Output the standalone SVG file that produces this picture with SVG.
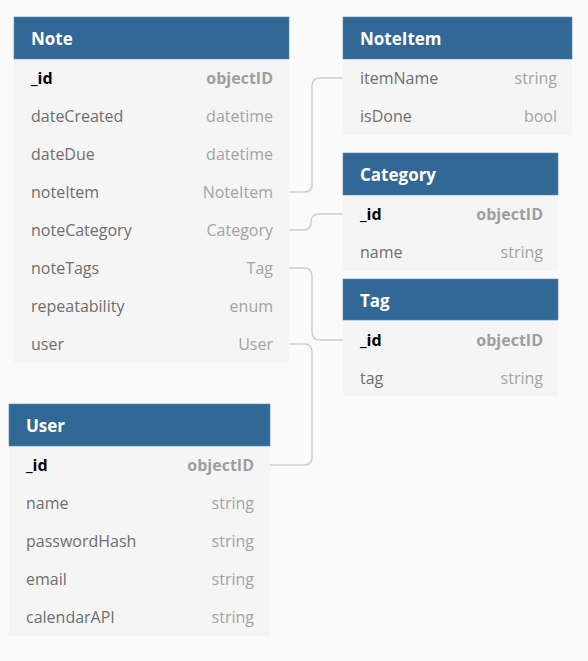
<svg xmlns="http://www.w3.org/2000/svg" width="588" height="661" viewBox="0 0 588 661">
<style>
.bg{fill:#fafafa}
.hd{fill:#316896;stroke:#5b87ad;stroke-width:0.6}
.bd{fill:#f5f5f5}
.sep{stroke:#efefef;stroke-width:1}
.t{font-family:"Open Sans","Noto Sans",sans-serif;font-size:16px;dominant-baseline:central}
.h{font-family:"Open Sans","Noto Sans",sans-serif;font-size:17px;font-weight:bold;fill:#ffffff;dominant-baseline:central}
.n{fill:#6e6e6e}
.ty{fill:#a3a3a3;text-anchor:end}
.k{fill:#000000;font-weight:bold}
.kt{fill:#9e9e9e;font-weight:bold;text-anchor:end}
.c{fill:none;stroke:#cfcfcf;stroke-width:1.5}
</style>
<rect class="bg" x="0" y="0" width="588" height="661"/>
<g id="connectors">
<path class="c" d="M289,192 H304 Q312,192 312,184 V86 Q312,78 320,78 H343"/>
<path class="c" d="M289,230 H303 Q311,230 311,222 Q311,214 319,214 H343"/>
<path class="c" d="M289,268 H304 Q312,268 312,276 V332 Q312,340 320,340 H343"/>
<path class="c" d="M289,344 H304 Q312,344 312,352 V457 Q312,465 304,465 H270"/>
</g>
<g id="note">
<rect class="bd" x="14" y="59" width="275" height="304"/>
<rect class="hd" x="14" y="17" width="275" height="42"/>
<text class="h" x="31" y="38">Note</text>
<text class="t k" x="31" y="78">_id</text><text class="t kt" x="273" y="78">objectID</text>
<text class="t n" x="31" y="116">dateCreated</text><text class="t ty" x="273" y="116">datetime</text>
<text class="t n" x="31" y="154">dateDue</text><text class="t ty" x="273" y="154">datetime</text>
<text class="t n" x="31" y="192">noteItem</text><text class="t ty" x="273" y="192">NoteItem</text>
<text class="t n" x="31" y="230">noteCategory</text><text class="t ty" x="273" y="230">Category</text>
<text class="t n" x="31" y="268">noteTags</text><text class="t ty" x="273" y="268">Tag</text>
<text class="t n" x="31" y="306">repeatability</text><text class="t ty" x="273" y="306">enum</text>
<text class="t n" x="31" y="344">user</text><text class="t ty" x="273" y="344">User</text>
</g>
<g id="noteitem">
<rect class="bd" x="343" y="59" width="229" height="76"/>
<rect class="hd" x="343" y="17" width="229" height="42"/>
<text class="h" x="360" y="38">NoteItem</text>
<text class="t n" x="360" y="78">itemName</text><text class="t ty" x="557" y="78">string</text>
<text class="t n" x="360" y="116">isDone</text><text class="t ty" x="557" y="116">bool</text>
</g>
<g id="category">
<rect class="bd" x="343" y="195" width="215" height="76"/>
<rect class="hd" x="343" y="153" width="215" height="42"/>
<text class="h" x="360" y="174">Category</text>
<text class="t k" x="360" y="214">_id</text><text class="t kt" x="543" y="214">objectID</text>
<text class="t n" x="360" y="252">name</text><text class="t ty" x="543" y="252">string</text>
</g>
<g id="tag">
<rect class="bd" x="343" y="320" width="215" height="76"/>
<rect class="hd" x="343" y="279" width="215" height="41"/>
<text class="h" x="360" y="300">Tag</text>
<text class="t k" x="360" y="340">_id</text><text class="t kt" x="543" y="340">objectID</text>
<text class="t n" x="360" y="378">tag</text><text class="t ty" x="543" y="378">string</text>
</g>
<g id="user">
<rect class="bd" x="9" y="446" width="261" height="190"/>
<rect class="hd" x="9" y="404" width="261" height="42"/>
<text class="h" x="26" y="425">User</text>
<text class="t k" x="26" y="465">_id</text><text class="t kt" x="254" y="465">objectID</text>
<text class="t n" x="26" y="503">name</text><text class="t ty" x="254" y="503">string</text>
<text class="t n" x="26" y="541">passwordHash</text><text class="t ty" x="254" y="541">string</text>
<text class="t n" x="26" y="579">email</text><text class="t ty" x="254" y="579">string</text>
<text class="t n" x="26" y="617">calendarAPI</text><text class="t ty" x="254" y="617">string</text>
</g>
</svg>
